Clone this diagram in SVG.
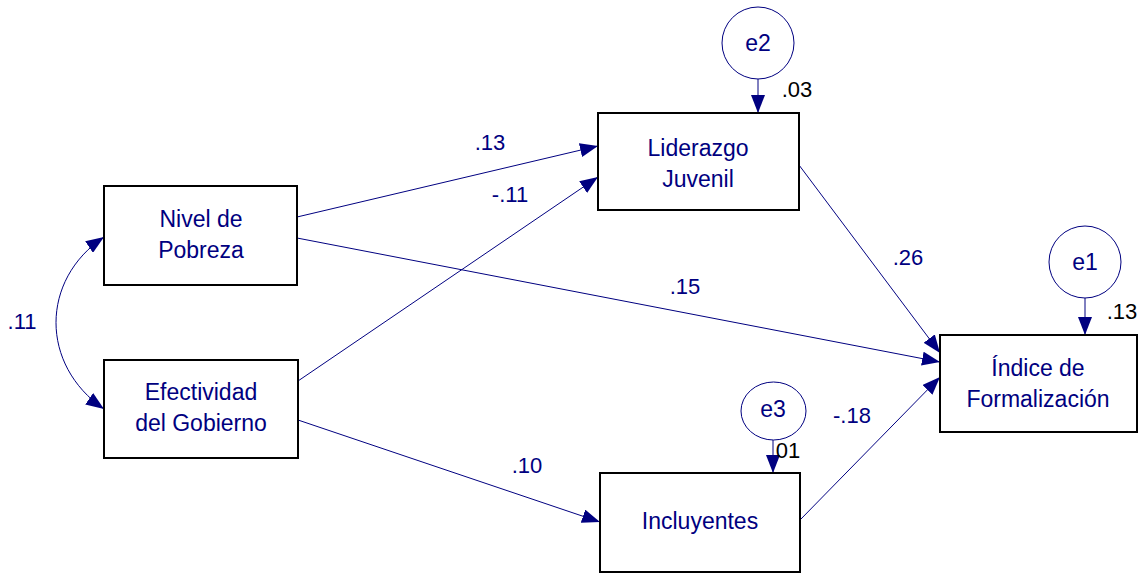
<svg xmlns="http://www.w3.org/2000/svg" width="1144" height="575" viewBox="0 0 1144 575">
<defs>
<marker id="ah" markerWidth="18" markerHeight="14" refX="18" refY="7" orient="auto-start-reverse" markerUnits="userSpaceOnUse">
<path d="M0,0 L18,7 L0,14 z" fill="#000080"/>
</marker>
<style>
.box{fill:#fff;stroke:#000;stroke-width:2}
.err{fill:#fff;stroke:#000080;stroke-width:1}
.lbl{font-family:"Liberation Sans",Arial,sans-serif;font-size:23px;fill:#000080;text-anchor:middle}
.elb{font-family:"Liberation Sans",Arial,sans-serif;font-size:23px;fill:#000080;text-anchor:middle}
.coef{font-family:"Liberation Sans",Arial,sans-serif;font-size:22px;fill:#000080;text-anchor:middle}
.blk{fill:#000}
.con{fill:none;stroke:#000080;stroke-width:1;marker-end:url(#ah)}
</style>
</defs>
<rect width="1144" height="575" fill="#fff"/>
<g id="connectors">
<path class="con" d="M297,217 L598,146"/>
<path class="con" d="M298,381 L598,177"/>
<path class="con" d="M297,238 L940,362"/>
<path class="con" d="M799,165 L940,353"/>
<path class="con" d="M800,520 L940,377"/>
<path class="con" d="M298,420 L600,522"/>
<path class="con" d="M104,237 C40,280 40,365 104,409" style="marker-start:url(#ah)"/>
<path class="con" d="M758,79 L758,113"/>
<path class="con" d="M1085,298 L1085,335"/>
<path class="con" d="M773,440 L773,473"/>
<text class="coef" x="490" y="150">.13</text>
<text class="coef" x="510" y="202">-.11</text>
<text class="coef" x="685" y="294">.15</text>
<text class="coef" x="908" y="265">.26</text>
<text class="coef" x="852" y="423">-.18</text>
<text class="coef" x="527" y="473">.10</text>
<text class="coef" x="22" y="329">.11</text>
<text class="coef blk" x="797" y="97">.03</text>
<text class="coef blk" x="1122" y="319">.13</text>
<text class="coef blk" x="788" y="458">01</text>
</g>
<g id="nivel">
<rect class="box" x="104" y="186" width="193" height="99"/>
<text class="lbl" x="201" y="227">Nivel de</text>
<text class="lbl" x="201" y="258">Pobreza</text>
</g>
<g id="efectividad">
<rect class="box" x="104" y="360" width="194" height="98"/>
<text class="lbl" x="201" y="400">Efectividad</text>
<text class="lbl" x="201" y="431">del Gobierno</text>
</g>
<g id="liderazgo">
<rect class="box" x="598" y="113" width="201" height="97"/>
<text class="lbl" x="698" y="156">Liderazgo</text>
<text class="lbl" x="698" y="187">Juvenil</text>
</g>
<g id="indice">
<rect class="box" x="940" y="335" width="197" height="97"/>
<text class="lbl" x="1038" y="376">Índice de</text>
<text class="lbl" x="1038" y="407">Formalización</text>
</g>
<g id="incluyentes">
<rect class="box" x="600" y="473" width="200" height="99"/>
<text class="lbl" x="700" y="529">Incluyentes</text>
</g>
<g id="e2">
<circle class="err" cx="758" cy="43" r="36"/>
<text class="elb" x="758" y="51">e2</text>
</g>
<g id="e1">
<circle class="err" cx="1085" cy="262" r="36"/>
<text class="elb" x="1085" y="270">e1</text>
</g>
<g id="e3">
<ellipse class="err" cx="773.5" cy="411" rx="32.5" ry="29"/>
<text class="elb" x="773" y="417">e3</text>
</g>
</svg>
